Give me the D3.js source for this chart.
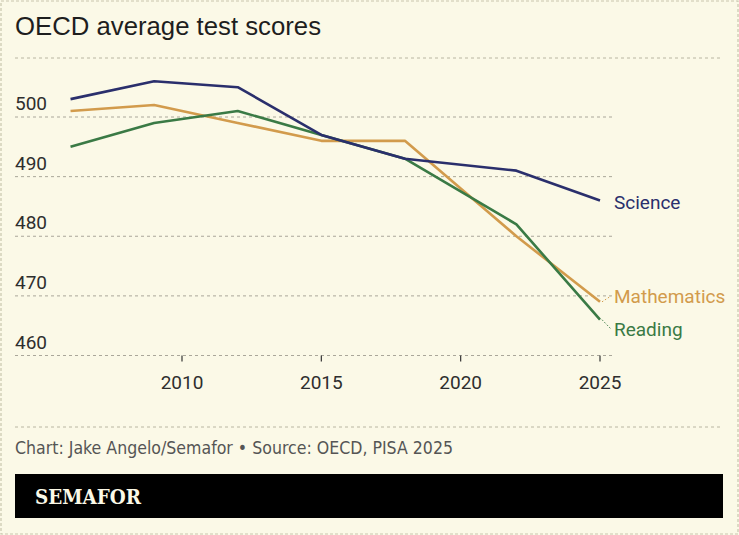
<!DOCTYPE html>
<html>
<head>
<meta charset="utf-8">
<script src="https://cdn.jsdelivr.net/npm/d3@7"></script>
<style>
  body { margin: 0; background: #fbf9e7; }
  svg { display: block; }
</style>
</head>
<body>
<svg id="chart"></svg>
<script>
const years = [2006, 2009, 2012, 2015, 2018, 2022, 2025];
const science = [503, 506, 505, 497, 493, 491, 486];
const mathematics = [501, 502, 499, 496, 496, 480, 469];
const reading = [495, 499, 501, 497, 493, 482, 466];
const yTicks = [460, 470, 480, 490, 500];
const xTicks = [2010, 2015, 2020, 2025];

const width = 739;
const height = 535;
const svg = d3.select("#chart").attr("width", width).attr("height", height);

// --- frame ---
svg.append("rect")
  .attr("x", 1).attr("y", 1).attr("width", width - 2).attr("height", height - 2)
  .attr("fill", "#fbf9e7").attr("stroke", "#c9c6ad").attr("stroke-width", 1.2)
  .attr("stroke-dasharray", "3,2");

svg.append("text")
  .attr("x", 15).attr("y", 35)
  .style("font-family", "'Liberation Sans', Arial, sans-serif")
  .style("font-size", "25px").style("fill", "#1e1e1e")
  .attr("textLength", 306).attr("lengthAdjust", "spacingAndGlyphs")
  .text("OECD average test scores");

// separators
[58, 427].forEach((y) => {
  svg.append("line").attr("x1", 15).attr("x2", 723).attr("y1", y).attr("y2", y)
    .attr("stroke", "#b9b6a2").attr("stroke-dasharray", "3,3");
});

// --- scales ---
const x = d3.scaleLinear().domain([2010, 2025]).range([182, 600]);
const y = d3.scaleLinear().domain([460, 500]).range([355.5, 117]);

const g = svg.append("g");

// gridlines + y labels
yTicks.forEach((t) => {
  g.append("line").attr("x1", 15).attr("x2", 612).attr("y1", y(t)).attr("y2", y(t))
    .attr("stroke", "#aaa79a").attr("stroke-dasharray", "3,3");
  g.append("text").attr("x", 15).attr("y", y(t) - 7)
    .style("font-family", "Roboto, 'Noto Sans', sans-serif")
    .style("font-size", "19px").style("fill", "#2e2e2e")
    .text(t);
});

// x ticks
xTicks.forEach((t) => {
  g.append("line").attr("x1", x(t)).attr("x2", x(t)).attr("y1", y(460)).attr("y2", y(460) + 6)
    .attr("stroke", "#333").attr("stroke-width", 1.2);
  g.append("text").attr("x", x(t)).attr("y", 389).attr("text-anchor", "middle")
    .style("font-family", "Roboto, 'Noto Sans', sans-serif")
    .style("font-size", "19px").style("fill", "#2e2e2e")
    .text(t);
});

// --- lines ---
const series = [
  { name: "Mathematics", values: mathematics, color: "#d29b4c", labelY: 296 },
  { name: "Reading", values: reading, color: "#3a7a45", labelY: 329 },
  { name: "Science", values: science, color: "#2a2f6c", labelY: 202 },
];

const line = d3.line().x((d) => x(d[0])).y((d) => y(d[1]));

series.forEach((s) => {
  const pts = years.map((yr, i) => [yr, s.values[i]]);
  g.append("path").datum(pts)
    .attr("d", line)
    .attr("fill", "none").attr("stroke", s.color).attr("stroke-width", 2.6)
    .attr("stroke-linejoin", "round");

  const last = pts[pts.length - 1];
  const ex = x(last[0]), ey = y(last[1]);
  if (Math.abs(ey - s.labelY) > 4) {
    g.append("line").attr("x1", ex + 2).attr("y1", ey).attr("x2", 611).attr("y2", s.labelY)
      .attr("stroke", s.color).attr("stroke-width", 1).attr("stroke-dasharray", "1.5,2");
  }
  g.append("text").attr("x", 614).attr("y", s.labelY).attr("dy", "0.35em")
    .style("font-family", "Roboto, 'Noto Sans', sans-serif")
    .style("font-size", "19px").style("fill", s.color)
    .text(s.name);
});

// --- footer ---
svg.append("text").attr("x", 15).attr("y", 454)
  .style("font-family", "'Liberation Sans Narrow', 'DejaVu Sans Condensed', sans-serif")
  .style("font-size", "17px").style("fill", "#555")
  .attr("textLength", 438).attr("lengthAdjust", "spacingAndGlyphs")
  .text("Chart: Jake Angelo/Semafor \u2022 Source: OECD, PISA 2025");

svg.append("rect").attr("x", 15).attr("y", 474).attr("width", 708).attr("height", 44)
  .attr("fill", "#000");
svg.append("text").attr("x", 35).attr("y", 504)
  .style("font-family", "'DejaVu Serif Condensed', 'Liberation Serif', serif")
  .style("font-weight", "bold")
  .style("font-size", "21px").style("fill", "#fbf9e7")
  .attr("textLength", 106).attr("lengthAdjust", "spacingAndGlyphs")
  .text("SEMAFOR");
</script>
</body>
</html>
